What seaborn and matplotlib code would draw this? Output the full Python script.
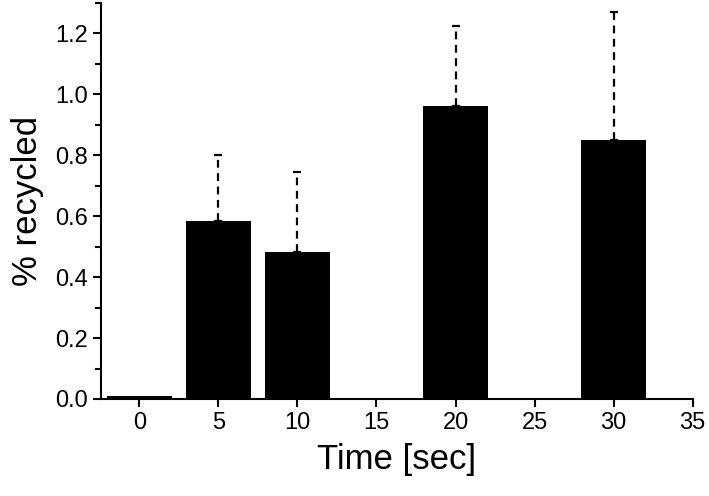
import numpy as np
import pandas as pd
import matplotlib
matplotlib.use("Agg")
import matplotlib.pyplot as plt
import seaborn as sns

### Data
time_sec = [0, 5, 10, 20, 30]
pct_recycled = [0.01, 0.584, 0.484, 0.963, 0.851]
err_upper = [0.0, 0.218, 0.262, 0.260, 0.419]

df = pd.DataFrame({"time": time_sec, "recycled": pct_recycled})

sns.set_style("ticks")
plt.rcParams['font.family'] = ['Liberation Sans', 'DejaVu Sans']
for key in ["text.color", "axes.labelcolor", "xtick.color", "ytick.color", "axes.edgecolor"]:
    plt.rcParams[key] = "black"

fig, ax = plt.subplots(figsize=(7.09, 4.96), dpi=100)
fig.subplots_adjust(left=0.1425, right=0.977, top=0.994, bottom=0.1956)

sns.barplot(data=df, x="time", y="recycled", native_scale=True, width=0.82,
            color="black", saturation=1, edgecolor="black", linewidth=0,
            errorbar=None, ax=ax)

# dashed upper error bars, only where there is an error
for t, v, e in zip(time_sec, pct_recycled, err_upper):
    if e <= 0:
        continue
    eb = ax.errorbar(t, v, yerr=[[0], [e]], fmt="none", ecolor="black",
                     elinewidth=1.6, capsize=3, capthick=1.6)
    eb[2][0].set_linestyle((0, (3.5, 2.5)))

ax.set_xlim(-2.42, 35)
ax.set_ylim(0, 1.3)
ax.set_xticks(np.arange(0, 36, 5))
ax.set_yticks(np.arange(0, 1.21, 0.2))
ax.set_yticks(np.arange(0.1, 1.31, 0.2), minor=True)
ax.yaxis.set_major_formatter(matplotlib.ticker.FormatStrFormatter("%.1f"))

ax.set_xlabel("Time [sec]", fontsize=25, labelpad=6)
ax.set_ylabel("% recycled", fontsize=25, labelpad=8)

sns.despine(ax=ax)
for s in ["left", "bottom"]:
    ax.spines[s].set_linewidth(1.5)
ax.tick_params(axis="both", which="major", direction="out", length=6, width=1.5,
               labelsize=17, color="black", labelcolor="black")
ax.tick_params(axis="y", which="minor", direction="out", length=4, width=1.5, color="black")

fig.savefig("out.png", dpi=100)
